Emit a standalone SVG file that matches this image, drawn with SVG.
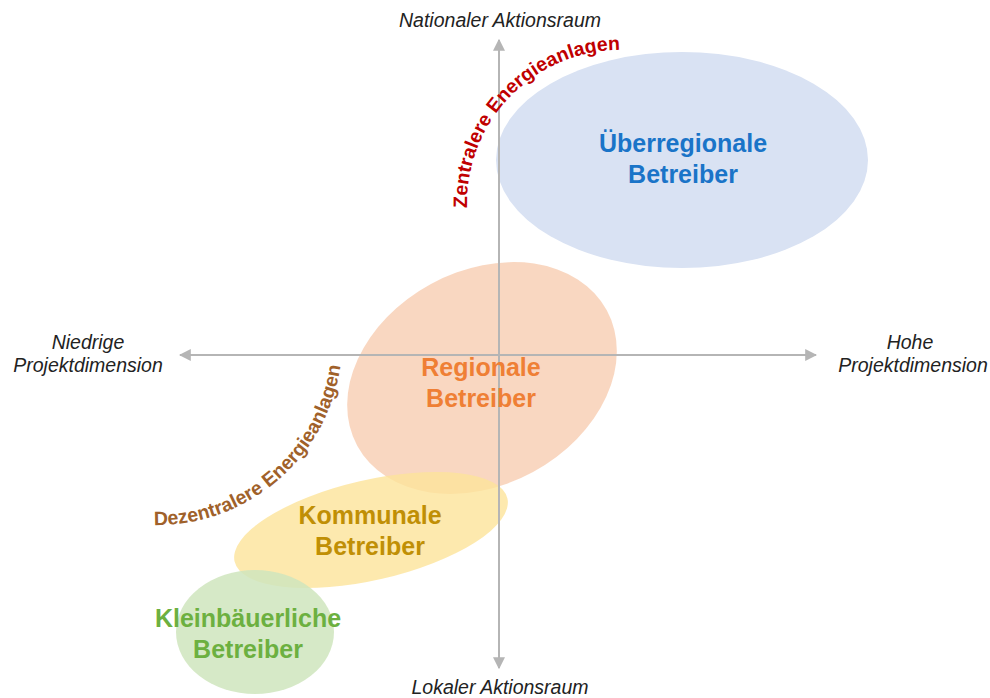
<svg xmlns="http://www.w3.org/2000/svg" width="990" height="698" viewBox="0 0 990 698">
<defs>
<style>
.axl{font-family:"Liberation Sans",Arial,sans-serif;font-style:italic;font-size:19.5px;fill:#222;text-anchor:middle}
.nl{font-family:"Liberation Sans",Arial,sans-serif;font-weight:bold;font-size:25px;text-anchor:middle}
.arc{font-family:"Liberation Sans",Arial,sans-serif;font-weight:bold;font-size:19.5px}
.ax{stroke:#b5b5b5;stroke-width:2;fill:none}
</style>
<marker id="ah" viewBox="0 0 10 10" refX="9" refY="5" markerWidth="6" markerHeight="6" markerUnits="strokeWidth" orient="auto">
<path d="M0,0 L10,5 L0,10 z" fill="#b5b5b5"/>
</marker>
<path id="pz" d="M 467,208 A 154,154 0 0 1 640,51"/>
<path id="pd" d="M 154,525 A 185,185 0 0 0 342,330"/>
</defs>
<rect width="990" height="698" fill="#ffffff"/>
<g id="ueberregional">
<ellipse cx="682" cy="160" rx="186" ry="108" fill="#d9e2f3"/>
</g>
<g id="regional">
<ellipse cx="482" cy="378" rx="142" ry="107" transform="rotate(-28.5 482 378)" fill="#f7cdb2" fill-opacity="0.8"/>
</g>
<g id="kommunal">
<ellipse cx="371" cy="530" rx="140" ry="50" transform="rotate(-13 371 530)" fill="#fde39a" fill-opacity="0.8"/>
</g>
<g id="kleinbaeuerlich">
<ellipse cx="255" cy="632" rx="79" ry="62" fill="#cfe5bd" fill-opacity="0.85"/>
</g>
<g id="connectors">
<line class="ax" x1="499" y1="668" x2="499" y2="40" marker-end="url(#ah)"/>
<line class="ax" x1="499" y1="40" x2="499" y2="668" marker-end="url(#ah)"/>
<line class="ax" x1="499" y1="355" x2="816" y2="355" marker-end="url(#ah)"/>
<line class="ax" x1="499" y1="355" x2="180" y2="355" marker-end="url(#ah)"/>
</g>
<g id="labels">
<text class="axl" x="500" y="27">Nationaler Aktionsraum</text>
<text class="axl" x="500" y="694">Lokaler Aktionsraum</text>
<text class="axl" x="88" y="349">Niedrige</text>
<text class="axl" x="88" y="372">Projektdimension</text>
<text class="axl" x="910" y="349">Hohe</text>
<text class="axl" x="913" y="372">Projektdimension</text>
</g>
<g id="t-ueberregional"><text class="nl" fill="#1a74c8" x="683" y="152">Überregionale</text><text class="nl" fill="#1a74c8" x="683" y="183">Betreiber</text></g>
<g id="t-regional"><text class="nl" fill="#ef7f35" x="481" y="376">Regionale</text><text class="nl" fill="#ef7f35" x="481" y="407">Betreiber</text></g>
<g id="t-kommunal"><text class="nl" fill="#c08f05" x="370" y="524">Kommunale</text><text class="nl" fill="#c08f05" x="370" y="555">Betreiber</text></g>
<g id="t-klein"><text class="nl" fill="#6cb040" x="248" y="627">Kleinbäuerliche</text><text class="nl" fill="#6cb040" x="248" y="658">Betreiber</text></g>
<g id="arcs">
<text class="arc" fill="#c00000"><textPath href="#pz">Zentralere Energieanlagen</textPath></text>
<text class="arc" fill="#a0612a"><textPath href="#pd">Dezentralere Energieanlagen</textPath></text>
</g>
</svg>
